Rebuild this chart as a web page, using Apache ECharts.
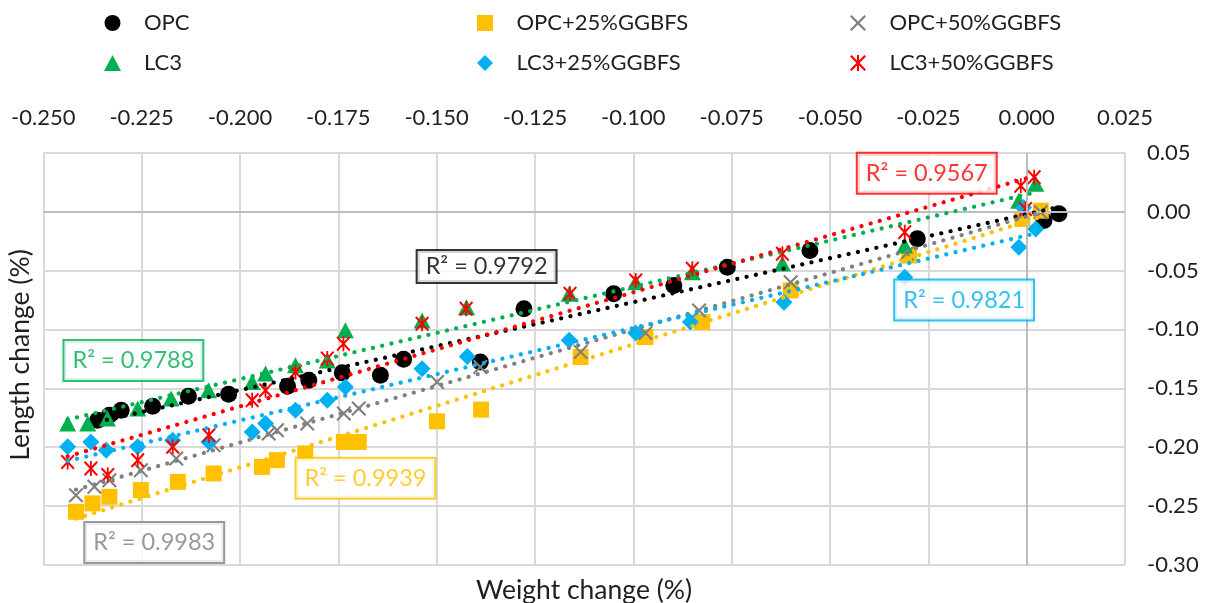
<!DOCTYPE html>
<html>
<head>
<meta charset="utf-8">
<script src="https://cdn.jsdelivr.net/npm/echarts@6/dist/echarts.min.js"></script>
<style>
  html, body { margin: 0; padding: 0; background: #ffffff; }
  #chart { width: 1210px; height: 603px; }
</style>
</head>
<body>
<div id="chart"></div>
<script>
// Weight change (%) vs length change (%) for each binder mix: [weight, length]
const opc = [[-0.2362,-0.1771],[-0.2332,-0.1729],[-0.2302,-0.1686],[-0.2222,-0.1653],[-0.2131,-0.1568],[-0.2029,-0.1551],[-0.1879,-0.1483],[-0.1825,-0.1432],[-0.1740,-0.1369],[-0.1643,-0.1390],[-0.1584,-0.1254],[-0.1389,-0.1277],[-0.1278,-0.0825],[-0.1050,-0.0697],[-0.0897,-0.0627],[-0.0761,-0.0472],[-0.0551,-0.0331],[-0.0278,-0.0231],[0.0044,-0.0076],[0.0082,-0.0019]];
const opc25 = [[-0.2417,-0.2548],[-0.2375,-0.2477],[-0.2332,-0.2421],[-0.2252,-0.2364],[-0.2158,-0.2294],[-0.2067,-0.2223],[-0.1944,-0.2167],[-0.1906,-0.2110],[-0.1834,-0.2053],[-0.1736,-0.1955],[-0.1698,-0.1955],[-0.1499,-0.1780],[-0.1387,-0.1681],[-0.1134,-0.1235],[-0.0969,-0.1065],[-0.0825,-0.0938],[-0.0600,-0.0669],[-0.0299,-0.0373],[-0.0011,-0.0062],[0.0036,0.0008]];
const opc50 = [[-0.2417,-0.2407],[-0.2370,-0.2336],[-0.2332,-0.2280],[-0.2252,-0.2195],[-0.2162,-0.2096],[-0.2067,-0.1983],[-0.1927,-0.1884],[-0.1906,-0.1856],[-0.1829,-0.1799],[-0.1736,-0.1714],[-0.1698,-0.1672],[-0.1499,-0.1447],[-0.1389,-0.1319],[-0.1134,-0.1192],[-0.0969,-0.1031],[-0.0833,-0.0839],[-0.0600,-0.0599],[-0.0305,-0.0356],[-0.0010,-0.0020],[0.0036,-0.0006]];
const lc3 = [[-0.2438,-0.1799],[-0.2387,-0.1799],[-0.2337,-0.1757],[-0.2260,-0.1672],[-0.2175,-0.1587],[-0.2080,-0.1517],[-0.1969,-0.1446],[-0.1935,-0.1375],[-0.1859,-0.1305],[-0.1778,-0.1263],[-0.1732,-0.1008],[-0.1537,-0.0924],[-0.1424,-0.0811],[-0.1163,-0.0697],[-0.0994,-0.0599],[-0.0850,-0.0514],[-0.0621,-0.0441],[-0.0310,-0.0288],[-0.0020,0.0093],[0.0023,0.0237]];
const lc325 = [[-0.2438,-0.1997],[-0.2379,-0.1955],[-0.2340,-0.2025],[-0.2260,-0.1997],[-0.2171,-0.1941],[-0.2079,-0.1955],[-0.1969,-0.1870],[-0.1935,-0.1799],[-0.1859,-0.1686],[-0.1778,-0.1602],[-0.1732,-0.1489],[-0.1537,-0.1333],[-0.1422,-0.1229],[-0.1163,-0.1093],[-0.0994,-0.1031],[-0.0855,-0.0938],[-0.0617,-0.0769],[-0.0310,-0.0557],[-0.0020,-0.0303],[-0.0008,0.0034],[0.0023,-0.0147]];
const lc350 = [[-0.2438,-0.2125],[-0.2379,-0.2181],[-0.2336,-0.2237],[-0.2260,-0.2110],[-0.2171,-0.1997],[-0.2079,-0.1898],[-0.1969,-0.1602],[-0.1935,-0.1517],[-0.1859,-0.1362],[-0.1778,-0.1248],[-0.1737,-0.1121],[-0.1537,-0.0952],[-0.1425,-0.0825],[-0.1161,-0.0697],[-0.0994,-0.0585],[-0.0850,-0.0486],[-0.0621,-0.0358],[-0.0310,-0.0175],[-0.0015,0.0220],[0.0019,0.0291],[-0.0003,0.0023]];

const seriesNames = ['OPC', 'OPC+25%GGBFS', 'OPC+50%GGBFS', 'LC3', 'LC3+25%GGBFS', 'LC3+50%GGBFS'];
const seriesData = [opc, opc25, opc50, lc3, lc325, lc350];
// Coefficient of determination of each linear trend line
const rSquared = ['0.9792', '0.9939', '0.9983', '0.9788', '0.9821', '0.9567'];
// Where each R² box sits, in axis units [weight, length]
const rSquaredAnchor = [[-0.1373,-0.0466],[-0.1681,-0.2263],[-0.2218,-0.2809],[-0.2271,-0.1263],[-0.0159,-0.0750],[-0.0254,0.0326]];

const xTicks = { min: -0.25, max: 0.025, step: 0.025 };
const yTicks = { min: -0.30, max: 0.05, step: 0.05 };

const FONT = 'Lato, "Open Sans", sans-serif';
const TEXT = '#1f1f1f';
const colors = ['#000000', '#ffc000', '#808080', '#00b050', '#00b0f0', '#ff0000'];
// marker outlines as paths (unit box 10x10) so legend icons keep their aspect
const circleMark = 'path://M5,0 A5,5 0 1,1 5,10 A5,5 0 1,1 5,0 Z';
const squareMark = 'path://M0,0 L10,0 L10,10 L0,10 Z';
const triangleMark = 'path://M5,0 L10,9.4 L0,9.4 Z';
const diamondMark = 'path://M5,0 L10,5 L5,10 L0,5 Z';
const xMark = 'path://M1,0 L5,4 L9,0 L10,1 L6,5 L10,9 L9,10 L5,6 L1,10 L0,9 L4,5 L0,1 Z';
const starMark = 'path://M1,0 L5,4 L9,0 L10,1 L6,5 L10,9 L9,10 L5,6 L1,10 L0,9 L4,5 L0,1 Z M4.35,0 L5.65,0 L5.65,10 L4.35,10 Z';
const symbols = [circleMark, squareMark, xMark, triangleMark, diamondMark, starMark];
const sizes = [17, 16, 15, [17, 16], 17, [14, 15]];

// Ordinary least-squares line over the x range of the points
function trend(points) {
  const n = points.length;
  let sx = 0, sy = 0, sxx = 0, sxy = 0;
  let lo = Infinity, hi = -Infinity;
  points.forEach(([x, y]) => {
    sx += x; sy += y; sxx += x * x; sxy += x * y;
    lo = Math.min(lo, x); hi = Math.max(hi, x);
  });
  const slope = (n * sxy - sx * sy) / (n * sxx - sx * sx);
  const icpt = (sy - slope * sx) / n;
  return [[lo, slope * lo + icpt], [hi, slope * hi + icpt]];
}

const series = [];
// axis lines through zero
series.push({
  type: 'line', data: [], silent: true, z: 1,
  markLine: {
    silent: true, symbol: 'none', label: { show: false },
    lineStyle: { color: '#bdbdbd', width: 2, type: 'solid' },
    data: [{ xAxis: 0 }, { yAxis: 0 }]
  }
});
seriesNames.forEach((name, i) => {
  series.push({
    name, type: 'scatter', data: seriesData[i], z: 2 + i * 0.01,
    symbol: symbols[i], symbolSize: sizes[i], symbolKeepAspect: false,
    itemStyle: { color: colors[i], opacity: 1 }
  });
});
seriesNames.forEach((name, i) => {
  series.push({
    name: name + ' trend', type: 'line', data: trend(seriesData[i]), z: 5,
    symbol: 'none', silent: true,
    lineStyle: { color: colors[i], width: 4.2, type: [0.1, 9.4], cap: 'round' }
  });
});
seriesNames.forEach((name, i) => {
  const dark = i === 0;
  series.push({
    name: name + ' R²', type: 'scatter', z: 8, silent: true,
    symbolSize: 0, data: [rSquaredAnchor[i]],
    label: {
      show: true, position: 'inside',
      formatter: 'R² = ' + rSquared[i],
      fontFamily: FONT, fontSize: 23.5, lineHeight: 23,
      color: colors[i], backgroundColor: '#ffffff',
      borderColor: colors[i], borderWidth: 2,
      padding: dark ? [4, 8] : [8, 8]
    }
  });
});

const legendBase = {
  orient: 'vertical', top: 7, itemWidth: 53, itemHeight: 16, itemGap: 18,
  selectedMode: false,
  textStyle: { fontFamily: FONT, fontSize: 22, lineHeight: 22, color: TEXT }
};
const legendItem = i => ({ name: seriesNames[i], icon: symbols[i] });

const chart = echarts.init(document.getElementById('chart'), null, { renderer: 'canvas' });
chart.setOption({
  animation: false,
  backgroundColor: '#ffffff',
  grid: { left: 43.3, right: 85, top: 152.7, bottom: 38, containLabel: false },
  legend: [
    Object.assign({ left: 99, data: [legendItem(0), legendItem(3)] }, legendBase),
    Object.assign({ left: 472, data: [legendItem(1), legendItem(4)] }, legendBase),
    Object.assign({ left: 845, data: [legendItem(2), legendItem(5)] }, legendBase)
  ],
  xAxis: {
    type: 'value', position: 'top',
    min: xTicks.min, max: xTicks.max, interval: xTicks.step,
    axisLine: { show: false }, axisTick: { show: false },
    axisLabel: {
      margin: 24, fontFamily: FONT, fontSize: 22, color: TEXT,
      formatter: v => (Math.abs(v) < 1e-9 ? 0 : v).toFixed(3)
    },
    splitLine: { show: true, lineStyle: { color: '#d9d9d9', width: 2 } }
  },
  yAxis: {
    type: 'value', position: 'right',
    min: yTicks.min, max: yTicks.max, interval: yTicks.step,
    axisLine: { show: false }, axisTick: { show: false },
    axisLabel: {
      margin: 22, fontFamily: FONT, fontSize: 22, color: TEXT,
      formatter: v => (Math.abs(v) < 1e-9 ? 0 : v).toFixed(2)
    },
    splitLine: { show: true, lineStyle: { color: '#d9d9d9', width: 2 } }
  },
  graphic: [
    {
      type: 'text', x: 584, y: 590,
      style: { text: 'Weight change (%)', font: '26.5px ' + FONT, fill: TEXT, align: 'center', verticalAlign: 'middle' }
    },
    {
      type: 'text', x: 20, y: 355, rotation: Math.PI / 2,
      style: { text: 'Length change (%)', font: '26.5px ' + FONT, fill: TEXT, align: 'center', verticalAlign: 'middle' }
    }
  ],
  series
});
</script>
</body>
</html>
